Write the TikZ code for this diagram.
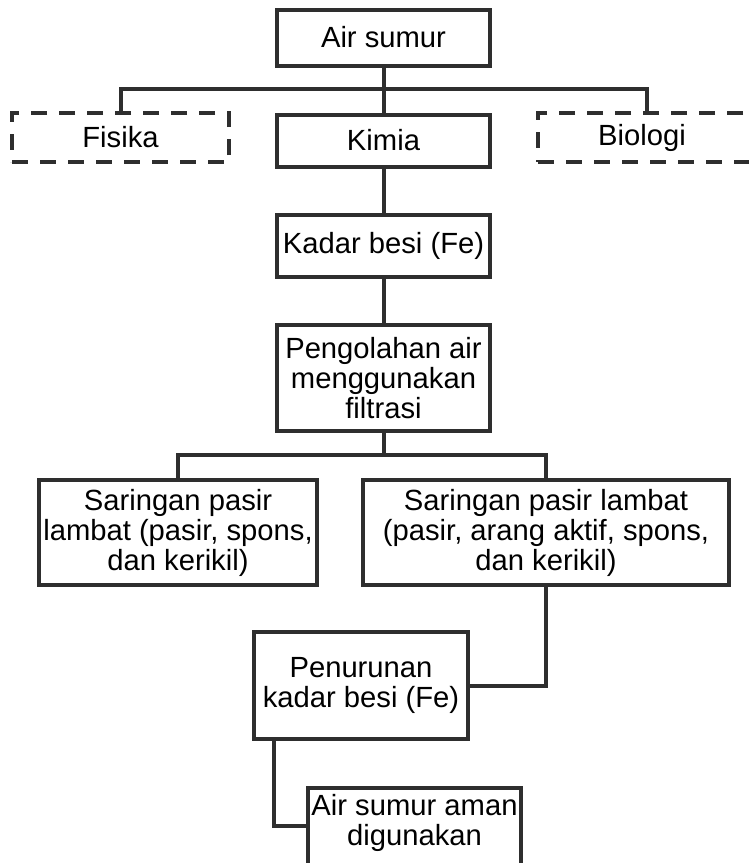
\documentclass[tikz,border=0pt]{standalone}
\usepackage{fontspec}
\setmainfont{Liberation Sans}
\definecolor{ln}{HTML}{2E2E2E}
\begin{document}
\begin{tikzpicture}[x=1pt,y=-1pt,
  box/.style={draw=ln, line width=4pt, inner sep=0pt, outer sep=0pt, align=center,
    font=\fontsize{29.2}{30}\selectfont, fill=white},
  dbox/.style={box, dash pattern=on 16pt off 12pt},
  conn/.style={draw=ln, line width=4pt}]
\useasboundingbox (0,0) rectangle (749,863);
\clip (0,0) rectangle (749,863);
\node[box, minimum width=213pt, minimum height=56pt] (air) at (383.5,37.5) {Air sumur};
\node[dbox, minimum width=217pt, minimum height=49pt] (fisika) at (120.5,137.5) {Fisika};
\node[box, minimum width=213pt, minimum height=52pt] (kimia) at (383.5,140.5) {Kimia};
\node[dbox, minimum width=218pt, minimum height=49pt] (biologi) at (647,137.5) {\hspace*{-10pt}Biologi};
\node[box, minimum width=213pt, minimum height=62pt] (kadar) at (383.5,246) {Kadar besi (Fe)};
\node[box, minimum width=213pt, minimum height=106pt] (peng) at (383.5,378) {Pengolahan air\\menggunakan\\filtrasi};
\node[box, minimum width=278pt, minimum height=105pt] (sar1) at (178,532.5) {Saringan pasir\\lambat (pasir, spons,\\dan kerikil)};
\node[box, minimum width=366pt, minimum height=105pt] (sar2) at (546,532.5) {Saringan pasir lambat\\(pasir, arang aktif, spons,\\dan kerikil)};
\node[box, minimum width=214pt, minimum height=107pt] (pen) at (361,685.5) {Penurunan\\kadar besi (Fe)};
\node[box, minimum width=213pt, minimum height=102pt, text depth=39pt] (aman) at (414.5,839) {Air sumur aman\\digunakan};
\coordinate (bus1) at (383.5,89);
\coordinate (bus2) at (383.5,455);
\draw[conn] (air.south) -- (kimia.north);
\draw[conn] (fisika.north) |- (bus1) -| (biologi.north);
\draw[conn] (kimia.south) -- (kadar.north);
\draw[conn] (kadar.south) -- (peng.north);
\draw[conn] (peng.south) -- (bus2);
\draw[conn] (sar1.north) |- (bus2) -| (sar2.north);
\draw[conn] (sar2.south) |- (pen.east);
\draw[conn] ([xshift=20pt]pen.south west) |- ([yshift=13pt]aman.west);
\end{tikzpicture}
\end{document}
